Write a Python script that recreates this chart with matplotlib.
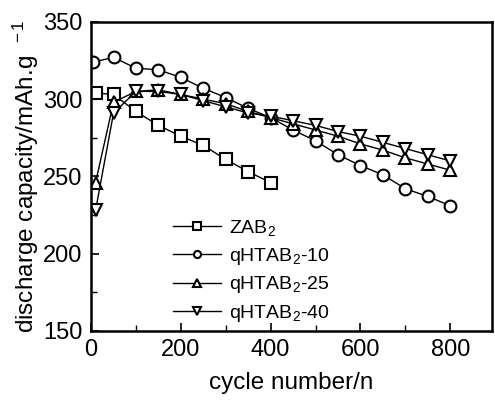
import matplotlib
matplotlib.use("Agg")
import matplotlib.pyplot as plt
from matplotlib.ticker import MultipleLocator

plt.rcParams['font.family'] = ['Liberation Sans', 'DejaVu Sans']
plt.rcParams['mathtext.fontset'] = 'custom'
plt.rcParams['mathtext.rm'] = 'Liberation Sans'
plt.rcParams['mathtext.it'] = 'Liberation Sans'

# данные
zab_x = [10, 50, 100, 150, 200, 250, 300, 350, 400]
zab_y = [304, 303, 292, 283, 276, 270, 261, 253, 246]

q10_x = [5, 50, 100, 150, 200, 250, 300, 350, 400, 450, 500, 550, 600, 650, 700, 750, 800]
q10_y = [324, 327, 320, 319, 314, 307, 301, 294, 288, 280, 273, 264, 257, 251, 242, 237, 231]

q25_x = [10, 50, 100, 150, 200, 250, 300, 350, 400, 450, 500, 550, 600, 650, 700, 750, 800]
q25_y = [246, 298, 305, 306, 303, 300, 297, 292, 288, 284, 280, 276, 271, 267, 262, 258, 254]

q40_x = [10, 50, 100, 150, 200, 250, 300, 350, 400, 450, 500, 550, 600, 650, 700, 750, 800]
q40_y = [228, 291, 305, 305, 303, 299, 295, 291, 289, 286, 283, 279, 276, 272, 268, 264, 260]

labels = ["ZAB$_2$", "qHTAB$_2$-10", "qHTAB$_2$-25", "qHTAB$_2$-40"]

fig = plt.figure(figsize=(4.95, 4.05), dpi=100)
ax = fig.add_axes([0.184, 0.183, 0.810, 0.763])

style = dict(color="black", lw=1.0, mfc="white", mec="black", mew=1.5, ms=8.5)
ax.plot(zab_x, zab_y, marker="s", label=labels[0], **style)
ax.plot(q10_x, q10_y, marker="o", label=labels[1], **style)
ax.plot(q25_x, q25_y, marker="^", label=labels[2], **style)
ax.plot(q40_x, q40_y, marker="v", label=labels[3], **style)

ax.set_xlim(0, 893)
ax.set_ylim(150, 350)
ax.xaxis.set_major_locator(MultipleLocator(200))
ax.xaxis.set_minor_locator(MultipleLocator(100))
ax.yaxis.set_major_locator(MultipleLocator(50))
ax.yaxis.set_minor_locator(MultipleLocator(25))
ax.tick_params(which="both", direction="in", top=False, right=False, labelsize=17)
ax.tick_params(which="major", length=6, width=1.2, pad=6)
ax.tick_params(which="minor", length=4, width=1.0)
for s in ax.spines.values():
    s.set_linewidth(1.8)

ax.set_xlabel("cycle number/n", fontsize=17.5, labelpad=8)
ax.set_ylabel("discharge capacity/mAh.g$^{\\ \\ -1}$", fontsize=17.5, labelpad=2)

ax.legend(loc="lower left", bbox_to_anchor=(0.16, -0.035), frameon=False, fontsize=14,
          markerscale=0.6, handlelength=2.5, handletextpad=0.4, labelspacing=0.4)

fig.savefig("out.png", dpi=100)
